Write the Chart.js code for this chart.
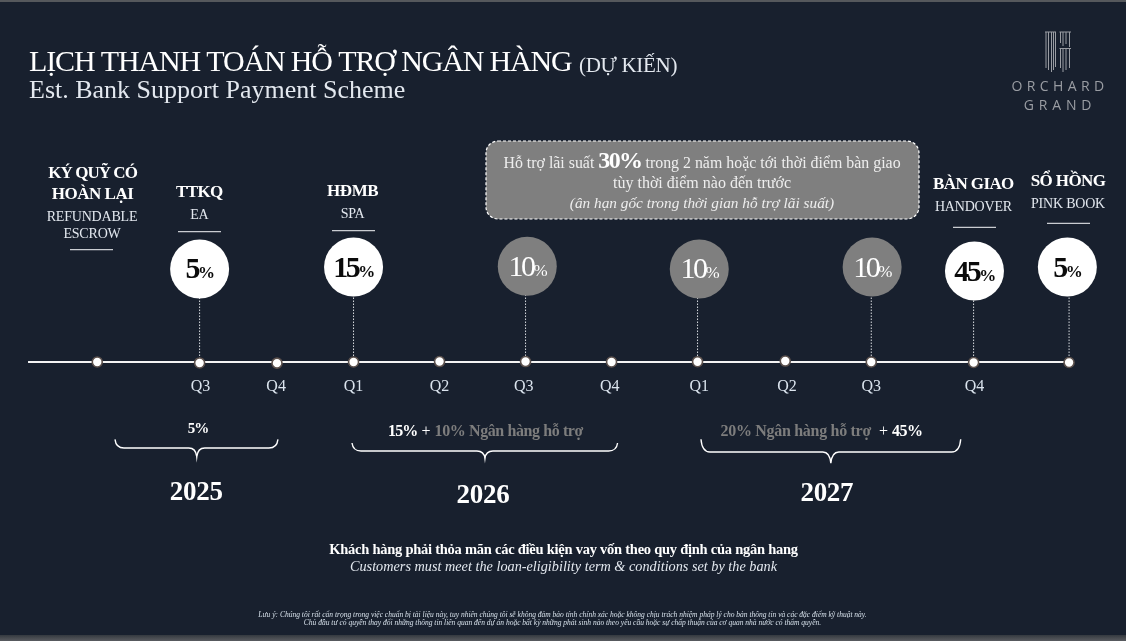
<!DOCTYPE html>
<html>
<head>
<meta charset="utf-8">
<title>Lịch thanh toán hỗ trợ ngân hàng</title>
<script src="https://cdn.jsdelivr.net/npm/chart.js@4"></script>
<style>
  html, body { margin: 0; padding: 0; background: #18202e; overflow: hidden; }
  canvas { display: block; }
</style>
</head>
<body>
<canvas id="paymentChart" width="1126" height="641"></canvas>
<script>
// timeline, x in quarters counted from the escrow point, y in rows above the line
var timelineEnds = [-0.805, 11.26];
var stopPositions = [0, 1.19, 2.09, 2.98, 3.98, 4.98, 5.98, 6.98, 8.0, 9.0, 10.19, 11.3];
var stopLevels = [0, -0.01, -0.012, 0, 0.005, 0.005, 0, 0.003, 0.01, 0, -0.005, -0.005];

var quarterPositions = [1.2, 2.08, 2.98, 3.98, 4.96, 5.96, 7.0, 8.02, 9.0, 10.2];
var quarterLabels = ['Q3', 'Q4', 'Q1', 'Q2', 'Q3', 'Q4', 'Q1', 'Q2', 'Q3', 'Q4'];

var milestoneValues = [5, 15, 10, 10, 10, 45, 5];
var milestonePositions = [1.19, 2.98, 5.0, 7.0, 9.01, 10.2, 11.28];
var milestoneLevels = [0.98, 1.0, 1.007, 0.98, 1.0, 0.958, 1.0];
var dropPositions = [1.19, 2.98, 4.98, 6.98, 9.0, 10.19, 11.3];
var milestoneBanked = [false, false, true, true, true, false, false];

var yearLabels = ['2025', '2026', '2027'];
var braceStarts = [0.206, 2.962, 7.02];
var braceEnds = [2.101, 6.05, 10.04];
var braceTips = [1.157, 4.508, 8.53];

var SERIF = '"Liberation Serif", serif';
var SANS = '"Open Sans", sans-serif';
var WHITE = '#ffffff';
var SOFT = '#e3e8ef';
var GREY = '#7d7d7d';

function drawRuns(ctx, runs, x, y, align) {
  // runs: [text, font, colour, letterSpacing]
  var total = 0;
  runs.forEach(function (r) {
    ctx.font = r[1];
    ctx.letterSpacing = (r[3] || 0) + 'px';
    r.w = ctx.measureText(r[0]).width;
    total += r.w;
  });
  var cx = x;
  if (align === 'center') cx = x - total / 2;
  ctx.textAlign = 'left';
  ctx.textBaseline = 'alphabetic';
  runs.forEach(function (r) {
    ctx.font = r[1];
    ctx.letterSpacing = (r[3] || 0) + 'px';
    ctx.fillStyle = r[2];
    ctx.fillText(r[0], cx, y);
    cx += r.w;
  });
  ctx.letterSpacing = '0px';
}

function line(ctx, x1, y1, x2, y2, colour, width) {
  ctx.strokeStyle = colour;
  ctx.lineWidth = width;
  ctx.beginPath();
  ctx.moveTo(x1, y1);
  ctx.lineTo(x2, y2);
  ctx.stroke();
}

function drawBrace(ctx, x1, x2, tip, top, flat, end) {
  ctx.strokeStyle = WHITE;
  ctx.lineWidth = 1.4;
  ctx.beginPath();
  ctx.moveTo(x1, top);
  ctx.quadraticCurveTo(x1 + 1, flat, x1 + 9, flat);
  ctx.lineTo(tip - 8, flat);
  ctx.quadraticCurveTo(tip - 1, flat, tip, end);
  ctx.quadraticCurveTo(tip + 1, flat, tip + 8, flat);
  ctx.lineTo(x2 - 9, flat);
  ctx.quadraticCurveTo(x2 - 1, flat, x2, top);
  ctx.stroke();
}

function drawLogo(ctx) {
  var c = '#9a9da3';
  [1046, 1048.5, 1051.5, 1053.5, 1055.5].forEach(function (x, i) {
    line(ctx, x, 32, x, [68, 70, 72, 70, 67][i], c, 1);
  });
  [1060.5, 1063, 1066, 1069.5].forEach(function (x, i) {
    line(ctx, x, 32, x, [43, 46, 44, 47][i], c, 1);
  });
  [1060.5, 1063, 1066, 1069.5].forEach(function (x, i) {
    line(ctx, x, 48, x, [68, 72, 70, 68][i], c, 1);
  });
  line(ctx, 1045, 32, 1056, 32, c, 1);
  line(ctx, 1059.5, 32, 1071, 32, c, 1);
  line(ctx, 1059.5, 48.5, 1071, 48.5, c, 1);
}

function drawMilestoneHeads(ctx) {
  var bold = function (s) { return 'bold ' + s + 'px ' + SERIF; };
  var reg = function (s) { return s + 'px ' + SERIF; };
  var heads = [
    ['KÝ QUỸ CÓ', 92.6, 178, -0.95], ['HOÀN LẠI', 92.6, 199, -0.5],
    ['TTKQ', 199.3, 197, -0.6], ['HĐMB', 352.6, 195.7, -0.4],
    ['BÀN GIAO', 973.4, 189, -0.6], ['SỔ HỒNG', 1068, 186, -0.6]
  ];
  heads.forEach(function (h) {
    drawRuns(ctx, [[h[0], bold(17), WHITE, h[3]]], h[1], h[2], 'center');
  });
  var subs = [
    ['REFUNDABLE', 92, 221], ['ESCROW', 92, 238], ['EA', 199.3, 219],
    ['SPA', 352.6, 218], ['HANDOVER', 973.4, 210.7], ['PINK BOOK', 1068, 208]
  ];
  subs.forEach(function (s) {
    drawRuns(ctx, [[s[0], reg(14), SOFT, -0.2]], s[1], s[2], 'center');
  });
  [[70, 113, 249.7], [178, 221, 231.7], [332, 375, 230.7], [953, 996, 227.3], [1047, 1090, 223.3]].forEach(function (u) {
    line(ctx, u[0], u[2], u[1], u[2], '#c9ccd1', 1.2);
  });
}

function drawCallout(ctx) {
  ctx.beginPath();
  ctx.roundRect(486, 141, 433, 78, 12);
  ctx.fillStyle = '#7f7f7f';
  ctx.fill();
  ctx.setLineDash([3, 2]);
  ctx.strokeStyle = WHITE;
  ctx.lineWidth = 1.2;
  ctx.stroke();
  ctx.setLineDash([]);
  drawRuns(ctx, [
    ['Hỗ trợ lãi suất ', '15.9px ' + SERIF, '#eeeeee'],
    ['30%', 'bold 24px ' + SERIF, WHITE, -1.6],
    [' trong 2 năm hoặc tới thời điểm bàn giao', '15.9px ' + SERIF, '#eeeeee']
  ], 702, 167.7, 'center');
  drawRuns(ctx, [['tùy thời điểm nào đến trước', '16px ' + SERIF, '#eeeeee']], 702, 188, 'center');
  drawRuns(ctx, [['(ân hạn gốc trong thời gian hỗ trợ lãi suất)', 'italic 15.3px ' + SERIF, '#eeeeee']], 702, 208, 'center');
}

var slidePlugin = {
  id: 'slide',
  beforeDraw: function (chart) {
    var ctx = chart.ctx;
    ctx.save();
    ctx.fillStyle = '#18202e';
    ctx.fillRect(0, 0, 1126, 641);
    ctx.fillStyle = '#55585c';
    ctx.fillRect(0, 0, 1126, 2);
    var g = ctx.createLinearGradient(0, 635, 0, 641);
    g.addColorStop(0, '#34393f');
    g.addColorStop(1, '#5a5c60');
    ctx.fillStyle = g;
    ctx.fillRect(0, 635, 1126, 6);

    drawRuns(ctx, [['LỊCH THANH TOÁN HỖ TRỢ NGÂN HÀNG', '30px ' + SERIF, WHITE, -1.15]], 29, 71, 'left');
    drawRuns(ctx, [['(DỰ KIẾN)', '21px ' + SERIF, SOFT, -0.3]], 579, 71.6, 'left');
    drawRuns(ctx, [['Est. Bank Support Payment Scheme', '26px ' + SERIF, SOFT, 0]], 29, 97.7, 'left');

    drawLogo(ctx);
    drawRuns(ctx, [['ORCHARD', '14px ' + SANS, '#9a9da3', 4.4]], 1060, 91, 'center');
    drawRuns(ctx, [['GRAND', '14px ' + SANS, '#9a9da3', 4.8]], 1060, 110, 'center');

    drawMilestoneHeads(ctx);
    drawCallout(ctx);
    ctx.restore();
  },
  afterDraw: function (chart) {
    var ctx = chart.ctx;
    var xs = chart.scales.x;
    var ys = chart.scales.y;
    ctx.save();

    // percent inside each milestone circle
    milestoneValues.forEach(function (v, i) {
      var colour = milestoneBanked[i] ? WHITE : '#0b0b0b';
      var weight = milestoneBanked[i] ? '' : 'bold ';
      drawRuns(ctx, [
        [String(v), weight + '30px ' + SERIF, colour, -2.5],
        ['%', weight + '17px ' + SERIF, colour, -1.5]
      ], xs.getPixelForValue(milestonePositions[i]), ys.getPixelForValue(milestoneLevels[i]) + 9.5, 'center');
    });

    // year braces
    var braceRows = [[439.3, 448, 456.7], [443, 451, 458.3], [439.3, 452, 463.3]];
    yearLabels.forEach(function (y, i) {
      drawBrace(ctx, xs.getPixelForValue(braceStarts[i]), xs.getPixelForValue(braceEnds[i]),
        xs.getPixelForValue(braceTips[i]), braceRows[i][0], braceRows[i][1], braceRows[i][2]);
    });
    var yearBase = [500, 503, 500.7];
    yearLabels.forEach(function (y, i) {
      drawRuns(ctx, [[y, 'bold 27px ' + SERIF, WHITE, -0.3]], xs.getPixelForValue(braceTips[i]) + [-0.5, -2, -4][i], yearBase[i], 'center');
    });

    var sumFont = 'bold 16px ' + SERIF;
    drawRuns(ctx, [['5%', 'bold 15px ' + SERIF, WHITE, -1]], 198, 432.7, 'center');
    drawRuns(ctx, [
      ['15%', sumFont, WHITE, -0.8], [' + ', '16px ' + SERIF, WHITE],
      ['10% Ngân hàng hỗ trợ', sumFont, GREY, -0.4]
    ], 485.5, 435.7, 'center');
    drawRuns(ctx, [
      ['20% Ngân hàng hỗ trợ', sumFont, GREY, -0.3], ['  + ', '16px ' + SERIF, WHITE],
      ['45%', sumFont, WHITE, -0.5]
    ], 821.5, 435.7, 'center');

    drawRuns(ctx, [['Khách hàng phải thỏa mãn các điều kiện vay vốn theo quy định của ngân hang', 'bold 14.5px ' + SERIF, WHITE, -0.25]], 563.5, 554, 'center');
    drawRuns(ctx, [['Customers must meet the loan-eligibility term & conditions set by the bank', 'italic 14.25px ' + SERIF, SOFT]], 563.5, 570.7, 'center');

    var noteFont = 'italic 7.5px ' + SERIF;
    drawRuns(ctx, [['Lưu ý: Chúng tôi rất cẩn trọng trong việc chuẩn bị tài liệu này, tuy nhiên chúng tôi sẽ không đảm bảo tính chính xác hoặc không chịu trách nhiệm pháp lý cho bản thông tin và các đặc điểm kỹ thuật này.', noteFont, '#d6e0ea']], 562.5, 616.5, 'center');
    drawRuns(ctx, [['Chủ đầu tư có quyền thay đổi những thông tin liên quan đến dự án hoặc bất kỳ những phát sinh nào theo yêu cầu hoặc sự chấp thuận của cơ quan nhà nước có thẩm quyền.', noteFont, '#d6e0ea']], 562.5, 625, 'center');
    ctx.restore();
  }
};

var dropPoints = [];
dropPositions.forEach(function (x, i) {
  dropPoints.push({ x: x, y: 0 });
  dropPoints.push({ x: x, y: milestoneLevels[i] });
  dropPoints.push({ x: x, y: null });
});

var ctx1 = document.getElementById('paymentChart');
var myChart1 = new Chart(ctx1, {
  type: 'scatter',
  plugins: [slidePlugin],
  data: {
    datasets: [
      {
        // milestone circles
        data: milestonePositions.map(function (x, i) { return { x: x, y: milestoneLevels[i] }; }),
        pointRadius: 29.5,
        pointBorderWidth: 0,
        pointBackgroundColor: milestoneBanked.map(function (b) { return b ? '#7f7f7f' : '#ffffff'; }),
        clip: false,
        order: 1
      },
      {
        // stops on the timeline
        data: stopPositions.map(function (x, i) { return { x: x, y: stopLevels[i] }; }),
        pointRadius: 5,
        pointBorderWidth: 1.6,
        pointBackgroundColor: '#ffffff',
        pointBorderColor: '#5c514d',
        order: 2
      },
      {
        type: 'line',
        data: timelineEnds.map(function (x) { return { x: x, y: 0 }; }),
        borderColor: '#f4f4f4',
        borderWidth: 1.8,
        pointRadius: 0,
        order: 3
      },
      {
        type: 'line',
        data: dropPoints,
        borderColor: '#d8dbdf',
        borderWidth: 1,
        borderDash: [1.5, 1.5],
        pointRadius: 0,
        spanGaps: false,
        order: 4
      }
    ]
  },
  options: {
    responsive: false,
    animation: false,
    events: [],
    layout: { padding: 0, autoPadding: false },
    plugins: { legend: { display: false }, tooltip: { enabled: false }, title: { display: false } },
    scales: {
      x: {
        type: 'linear',
        min: -1.131,
        max: 11.962,
        position: { y: 0 },
        grid: { display: false },
        border: { display: false },
        afterBuildTicks: function (axis) {
          axis.ticks = quarterPositions.map(function (v) { return { value: v }; });
        },
        ticks: {
          autoSkip: false,
          maxRotation: 0,
          padding: 7,
          color: '#dbe4ee',
          font: { family: 'Liberation Serif', size: 16 },
          callback: function (value, index) { return quarterLabels[index]; }
        }
      },
      y: { type: 'linear', min: -2.937, max: 3.811, display: false }
    }
  }
});
</script>
</body>
</html>
